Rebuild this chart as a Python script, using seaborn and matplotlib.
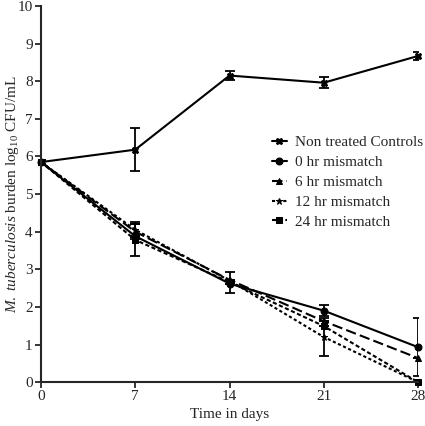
import numpy as np
import pandas as pd
import matplotlib
matplotlib.use("Agg")
import matplotlib.pyplot as plt
import seaborn as sns

# Data
days = [0, 7, 14, 21, 28]
groups = ["Non treated Controls", "0 hr mismatch", "6 hr mismatch",
          "12 hr mismatch", "24 hr mismatch"]
controls = [5.85, 6.18, 8.15, 7.96, 8.67]
controls_err = [0.05, 0.57, 0.12, 0.14, 0.10]
hr0 = [5.85, 3.88, 2.62, 1.90, 0.93]
hr0_err = [0.05, 0.0, 0.0, 0.15, 0.77]
hr6 = [5.85, 4.00, 2.72, 1.62, 0.64]
hr6_err = [0.05, 0.20, 0.0, 0.0, 0.0]
hr12 = [5.85, 4.05, 2.70, 1.20, 0.0]
hr12_err = [0.05, 0.20, 0.0, 0.50, 0.0]
hr24 = [5.85, 3.78, 2.66, 1.49, 0.0]
hr24_err = [0.05, 0.42, 0.28, 0.0, 0.0]

values = [controls, hr0, hr6, hr12, hr24]
errors = [controls_err, hr0_err, hr6_err, hr12_err, hr24_err]

df = pd.DataFrame({
    "day": days * len(groups),
    "group": [g for g in groups for _ in days],
    "value": [v for vals in values for v in vals],
    "err": [e for errs in errors for e in errs],
})

sns.set_style("ticks")
plt.rcParams["font.family"] = ["Liberation Serif", "DejaVu Serif"]
plt.rcParams["mathtext.fontset"] = "custom"
plt.rcParams["mathtext.rm"] = "Liberation Serif"
plt.rcParams["mathtext.it"] = "Liberation Serif:italic"

fig = plt.figure(figsize=(4.25, 4.26), dpi=100)
ax = fig.add_axes([0.0965, 0.103, 0.887, 0.883])

markers = {"Non treated Controls": "X", "0 hr mismatch": "o",
           "6 hr mismatch": "^", "12 hr mismatch": "*", "24 hr mismatch": "s"}
dashes = {"Non treated Controls": "", "0 hr mismatch": "",
          "6 hr mismatch": (5, 2), "12 hr mismatch": (1.5, 1.2),
          "24 hr mismatch": (2, 1.2)}
palette = {g: "black" for g in groups}

sns.lineplot(data=df, x="day", y="value", hue="group", style="group",
             markers=markers, dashes=dashes, palette=palette,
             hue_order=groups, style_order=groups, errorbar=None,
             linewidth=1.5, markersize=5, markeredgecolor="black", ax=ax,
             clip_on=False)

for g in groups:
    sub = df[df["group"] == g]
    ax.errorbar(sub["day"], sub["value"], yerr=sub["err"], fmt="none",
                ecolor="black", elinewidth=1.3, capsize=3.5, capthick=1.3)

ax.set_xlim(0, 28)
ax.set_ylim(0, 10)
ax.set_xticks(days)
ax.set_yticks(range(0, 11))
ax.tick_params(labelsize=11, width=1.3, length=4, direction="out", pad=2)
for s in ["left", "bottom"]:
    ax.spines[s].set_linewidth(1.5)
sns.despine(ax=ax)
ax.set_xlabel("Time in days", fontsize=11, labelpad=3)
ax.set_ylabel(r"$\it{M.\ tuberculosis}$ burden log$_{10}$ CFU/mL",
              fontsize=11)
ax.yaxis.set_label_coords(-0.054, 0.5)

leg = ax.legend(loc="upper left", bbox_to_anchor=(0.612, 0.655), frameon=False,
                fontsize=11, handlelength=1.0, handletextpad=0.5,
                labelspacing=0.4, borderaxespad=0, borderpad=0)

fig.savefig("out.png", dpi=100)
